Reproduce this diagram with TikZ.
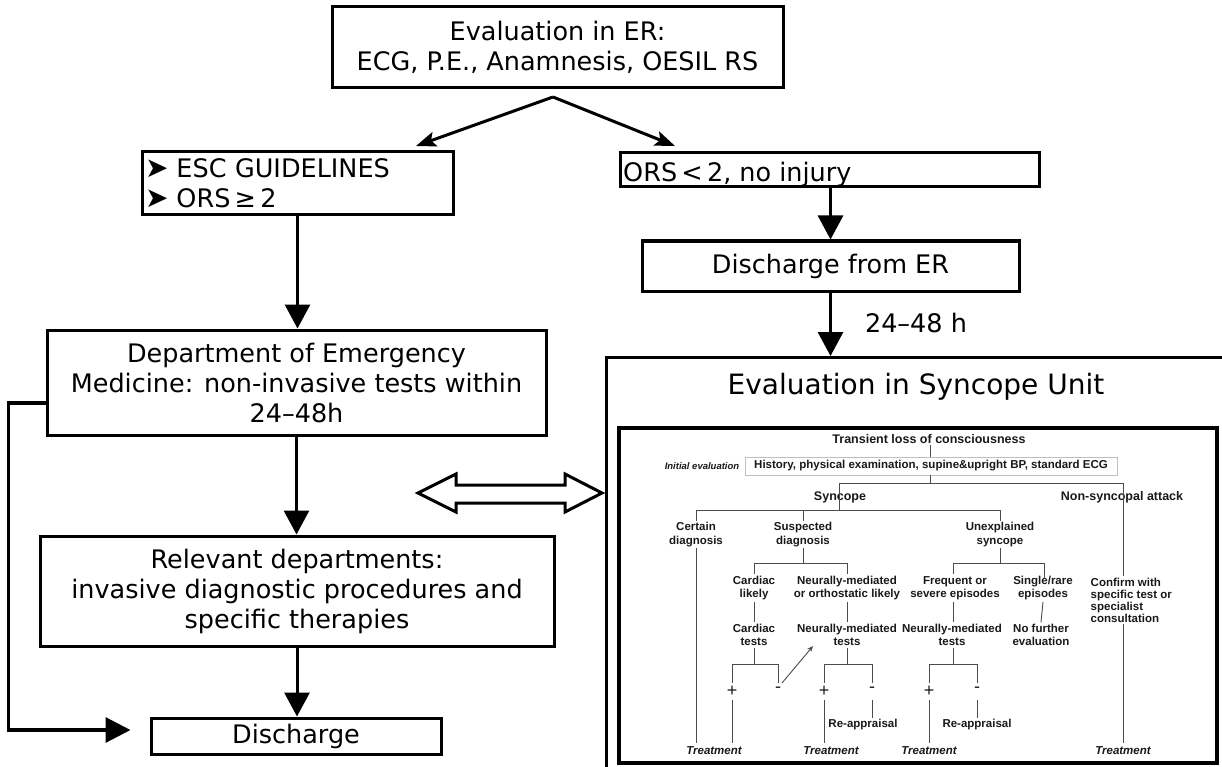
\documentclass[tikz,border=0pt]{standalone}
\usepackage{fontspec}
\setmainfont{DejaVu Sans}
\newfontfamily\arialf{Liberation Sans}
\usetikzlibrary{arrows.meta,calc}
\tikzset{
  obox/.style={draw, line width=3pt, align=center, inner sep=0pt, font=\fontsize{25.5}{30}\selectfont},
  conn/.style={line width=3pt, -{Triangle[length=24pt,width=25pt]}},
  dconn/.style={line width=3pt, -{Stealth[length=20pt,width=15pt,inset=4pt]}},
  ilab/.style={font=\arialf\bfseries\fontsize{11.5}{13.5}\selectfont, align=center, inner sep=1.5pt, text=black!90},
  ilabL/.style={font=\arialf\bfseries\fontsize{12.5}{14}\selectfont, align=center, inner sep=1.5pt, text=black!90},
  itreat/.style={font=\arialf\bfseries\itshape\fontsize{11.5}{13.5}\selectfont, inner sep=1.5pt, text=black!90},
  ipm/.style={font=\arialf\fontsize{18}{18}\selectfont, inner sep=0.5pt, text=black!90},
  iln/.style={draw=black!70, line width=0.9pt},
}
\newcommand{\blt}{\smash{\fontsize{28}{30}\selectfont ➤}}
\begin{document}
\begin{tikzpicture}[x=1pt,y=-1pt]
\useasboundingbox[fill=white] (0,0) rectangle (1222,767);

% ---------- outer flow ----------
\node[obox, minimum width=451, minimum height=81] (top) at (557.5,47.5)
  {Evaluation in ER:\\ECG, P.E., Anamnesis, OESIL RS};

\node[obox, minimum width=311, minimum height=63, align=left, text width=305, inner xsep=3pt] (esc) at (297.5,183.5)
  {\blt\hspace{8pt}ESC GUIDELINES\\\blt\hspace{8pt}ORS\,≥\,2};

\node[draw, line width=3pt, minimum width=419, minimum height=34, inner sep=0pt] (ors) at (829.5,170) {};
\node[anchor=base west, inner sep=0pt, font=\fontsize{25.5}{30}\selectfont] (orstxt) at (623,182) {ORS\,<\,2, no injury};

\node[obox, minimum width=377, minimum height=50] (diser) at (830.5,266) {Discharge from ER};

\node[obox, minimum width=499, minimum height=105] (dept) at (296.5,382.5)
  {Department of Emergency\\Medicine: non-invasive tests within\\24–48h};

\node[obox, minimum width=514, minimum height=110] (rel) at (297,591)
  {Relevant departments:\\invasive diagnostic procedures and\\specific therapies};

\node[obox, minimum width=290, minimum height=36] (dis) at (296,736) {Discharge};

\node[draw, line width=3pt, minimum width=621, minimum height=415, anchor=north west, inner sep=0pt] (su) at (605,356) {};
\node[font=\fontsize{28}{32}\selectfont, inner sep=0pt] (sutitle) at (916,387) {Evaluation in Syncope Unit};

\node[inner sep=0pt, font=\fontsize{25.5}{30}\selectfont] (hlab) at (916,323) {24–48 h};

% connectors
\coordinate (apex) at (553,97);
\coordinate (escTip) at (416,146);
\coordinate (orsTip) at (675,146);
\draw[dconn] (apex) -- (escTip);
\draw[dconn] (apex) -- (orsTip);
\draw[conn] (esc.south) -- (esc.south |- dept.north);
\draw[conn] (diser.north |- ors.south) -- (diser.north);
\draw[conn] (diser.south) -- (diser.south |- su.north);
\draw[conn] (dept.south) -- (dept.south |- rel.north);
\draw[conn] (rel.south) -- (rel.south |- dis.north);
\draw[line width=3.2pt, -{Triangle[length=25pt,width=25pt]}]
  ([yshift=-20.5pt]dept.west) -- ++(-37,0) |- ([xshift=-19pt,yshift=6pt]dis.west);

% double arrow
\draw[line width=3pt, line join=miter, fill=white]
  (418,493) -- (456,474) -- (456,485) -- (565,485) -- (565,474) -- (602,493)
  -- (565,512) -- (565,503) -- (456,503) -- (456,512) -- cycle;

% ---------- inner diagram ----------
\node[draw, line width=4pt, minimum width=598, minimum height=335, anchor=north west, inner sep=0pt] (ibox) at (617,426) {};

\node[ilabL] (tloc) at (929,439) {Transient loss of consciousness};
\node[font=\arialf\bfseries\itshape\fontsize{9.5}{11}\selectfont, inner sep=1pt, text=black!90] (ini) at (702,466) {Initial evaluation};
\node[draw=black!25, line width=0.8pt, minimum width=372, minimum height=18, inner sep=0pt,
      font=\arialf\bfseries\fontsize{11.5}{13}\selectfont, text=black!90] (hist) at (931,466)
  {History, physical examination, supine\&upright BP, standard ECG};
\node[ilabL] (syn) at (840,497) {Syncope};
\node[ilabL] (nsa) at (1122,497) {Non-syncopal attack};

\node[ilab] (cert) at (696,534.5) {Certain\\diagnosis};
\node[ilab] (susp) at (803,534.5) {Suspected\\diagnosis};
\node[ilab] (unex) at (1000,534.5) {Unexplained\\syncope};

\node[ilab] (cl) at (754,588) {Cardiac\\likely};
\node[ilab] (nml) at (847,588) {Neurally-mediated\\or orthostatic likely};
\node[ilab] (freq) at (955,588) {Frequent or\\severe episodes};
\node[ilab] (single) at (1043,588) {Single/rare\\episodes};
\node[ilab, font=\arialf\bfseries\fontsize{11.5}{12}\selectfont, align=left, anchor=west] (conf) at (1089,600)
  {Confirm with\\specific test or\\specialist\\consultation};

\node[ilab] (ct) at (754,635) {Cardiac\\tests};
\node[ilab] (nmt1) at (847,635) {Neurally-mediated\\tests};
\node[ilab] (nmt2) at (952,635) {Neurally-mediated\\tests};
\node[ilab] (nofurther) at (1041,635) {No further\\evaluation};

\node[ipm] (p1) at (732,691) {+};
\node[ipm] (m1) at (778,690) {-};
\node[ipm] (p2) at (824,691) {+};
\node[ipm] (m2) at (872,690) {-};
\node[ipm] (p3) at (929,691) {+};
\node[ipm] (m3) at (977,690) {-};

\node[ilab] (ra1) at (863,725) {Re-appraisal};
\node[ilab] (ra2) at (977,725) {Re-appraisal};

\node[itreat] (tr1) at (714,751) {Treatment};
\node[itreat] (tr2) at (831,751) {Treatment};
\node[itreat] (tr3) at (929,751) {Treatment};
\node[itreat] (tr4) at (1123,751) {Treatment};

% tree coordinates
\coordinate (b1L) at (839,483);
\coordinate (b1R) at (1123,483);
\coordinate (b2) at (0,510);
\coordinate (b3) at (0,563);
\coordinate (b4) at (0,664);
\coordinate (ty) at (0,743);
\coordinate (arrtip) at (813,646);

\draw[iln] (tloc.south -| 930,0) -- (hist.north -| 930,0);
\draw[iln] (hist.south -| 930,0) -- (930,483);
\draw[iln] (b1L) -- (b1R);
\draw[iln] (b1L) -- (b1L |- b2);
\draw[iln] (b1R) -- (b1R |- conf.north);
\draw[iln] (b1R |- conf.south) -- (b1R |- ty);
\draw[iln] (cert.north |- b2) -- (unex.north |- b2);
\draw[iln] (cert.north |- b2) -- (cert.north);
\draw[iln] (susp.north |- b2) -- (susp.north);
\draw[iln] (unex.north |- b2) -- (unex.north);
\draw[iln] (cert.south) -- (cert.south |- ty);

\draw[iln] (susp.south) -- (susp.south |- b3);
\draw[iln] (cl.north |- b3) -- (nml.north |- b3);
\draw[iln] (cl.north |- b3) -- (cl.north);
\draw[iln] (nml.north |- b3) -- (nml.north);
\draw[iln] (cl.south) -- (ct.north);
\draw[iln] (nml.south) -- (nmt1.north);

\draw[iln] (ct.south) -- (ct.south |- b4);
\draw[iln] (p1.north |- b4) -- (m1.north |- b4);
\draw[iln] (p1.north |- b4) -- (p1 |- 0,683);
\draw[iln] (m1.north |- b4) -- (m1 |- 0,683);
\draw[iln] (p1 |- 0,700) -- (p1 |- ty);
\draw[iln, -{Stealth[length=6pt,width=5pt]}] (782,683) -- (arrtip);

\draw[iln] (nmt1.south) -- (nmt1.south |- b4);
\draw[iln] (p2.north |- b4) -- (m2.north |- b4);
\draw[iln] (p2.north |- b4) -- (p2 |- 0,683);
\draw[iln] (m2.north |- b4) -- (m2 |- 0,683);
\draw[iln] (p2 |- 0,700) -- (p2 |- ty);
\draw[iln] (m2 |- 0,700) -- (m2 |- ra1.north);

\draw[iln] (unex.south) -- (unex.south |- b3);
\draw[iln] (953,563) -- (1044,563);
\draw[iln] (953,563) -- (freq.north -| 953,0);
\draw[iln] (1044,563) -- (1044,578);
\draw[iln] (freq.south -| 953,0) -- (nmt2.north -| 953,0);
\draw[iln] (single.south) -- (nofurther.north);
\draw[iln] (nmt2.south -| 953,0) -- (953,664);
\draw[iln] (p3.north |- b4) -- (m3.north |- b4);
\draw[iln] (p3.north |- b4) -- (p3 |- 0,683);
\draw[iln] (m3.north |- b4) -- (m3 |- 0,683);
\draw[iln] (p3 |- 0,700) -- (p3 |- ty);
\draw[iln] (m3 |- 0,700) -- (m3 |- ra2.north);
\end{tikzpicture}
\end{document}
